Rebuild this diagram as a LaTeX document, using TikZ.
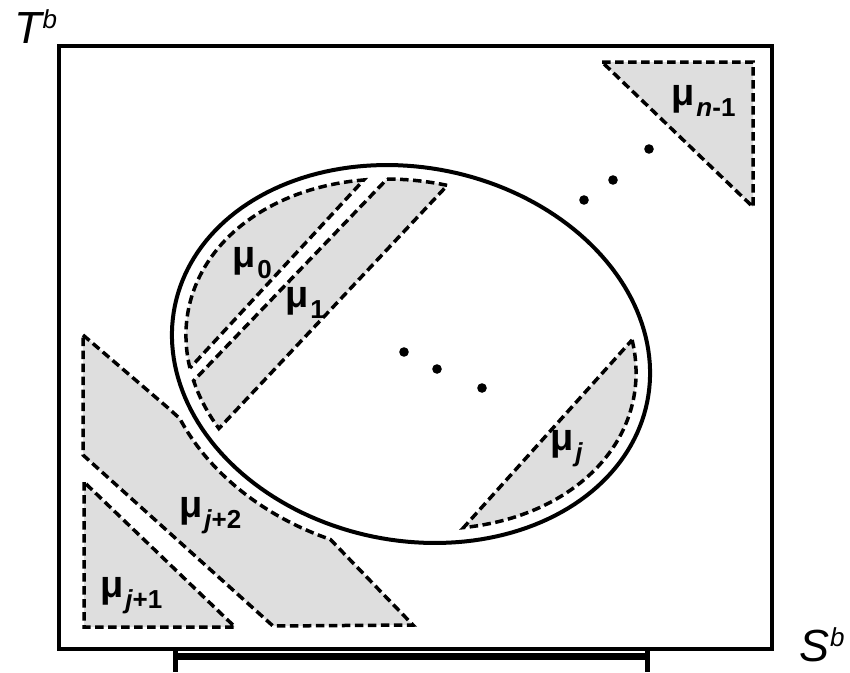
\documentclass[tikz,border=0pt]{standalone}
\usepackage{fontspec}
\setmainfont{Liberation Sans}
\usetikzlibrary{positioning}
\definecolor{regiongray}{gray}{0.87}
\newcommand{\mulab}[1]{\bfseries\fontsize{38}{40}\selectfont μ\kern2pt\raisebox{-11pt}{\fontsize{26}{28}\selectfont #1}}
\newcommand{\axlab}[1]{\itshape\fontsize{45}{47}\selectfont #1\kern1pt\raisebox{15pt}{\fontsize{26}{28}\selectfont b}}

\begin{document}
\begin{tikzpicture}[x=1pt, y=-1pt,
    region/.style={fill=regiongray, draw, line width=3.5pt, dash pattern=on 8.5pt off 4.5pt},
    every node/.style={inner sep=0pt, anchor=base west},
    declare function={ex(\t,\d)=411+(241+\d)*cos(\t)*0.9799-(186.5+\d)*sin(\t)*0.1994;
                      ey(\t,\d)=354+(241+\d)*cos(\t)*0.1994+(186.5+\d)*sin(\t)*0.9799;}]
    \useasboundingbox (0,0) rectangle (850,672);

    % 区域
    \path[region] (84,482) -- (84,627) -- (235,627) -- cycle;
    \path[region] (602,62) -- (753,62) -- (753,207) -- cycle;
    \path[region] (83,335) -- (167,407)
        -- plot[domain=147:99.5, samples=40, variable=\s] ({ex(\s,14)},{ey(\s,14)})
        -- (413,625) -- (273,626) -- (83,455) -- cycle;
    \path[region] plot[domain=160.4:249.1, samples=50, variable=\s] ({ex(\s,-14)},{ey(\s,-14)}) -- cycle;
    \path[region] plot[domain=255.1:270.5, samples=10, variable=\s] ({ex(\s,-14)},{ey(\s,-14)})
        -- plot[domain=139.8:156.2, samples=10, variable=\s] ({ex(\s,-14)},{ey(\s,-14)}) -- cycle;
    \path[region] plot[domain=-19.6:67.7, samples=50, variable=\s] ({ex(\s,-14)},{ey(\s,-14)}) -- cycle;

    % 椭圆
    \draw[line width=4pt] plot[domain=0:360, samples=181, variable=\s] ({ex(\s,0)},{ey(\s,0)}) -- cycle;

    % 外框
    \draw[line width=3.2pt] (59,46) rectangle (772,649);

    % 点
    \foreach \p in {(404,352), (437,369), (482,388), (584,200), (613,180), (649,149)}
        \fill \p circle (4.8pt);

    % 标签
    \node (mun) at (671,105) {\mulab{\itshape n\upshape -1}};
    \node (muzero) at (232,267) {\mulab{0}};
    \node (muone) at (285,307) {\mulab{1}};
    \node (muj) at (550,450) {\mulab{\itshape j}};
    \node (mujtwo) at (179,517) {\mulab{\itshape j\upshape +2}};
    \node (mujone) at (100,597) {\mulab{\itshape j\upshape +1}};
    \node (tb) at (14,43) {\axlab{T}};
    \node (sb) at (799,661) {\axlab{S}};

    % 区间
    \coordinate (barl) at (175,656);
    \coordinate (barr) at (647,656);
    \draw[line width=7pt] (barl) -- (barr);
    \draw[line width=5pt] (175,648) -- (175,672) (647,648) -- (647,672);
\end{tikzpicture}
\end{document}
